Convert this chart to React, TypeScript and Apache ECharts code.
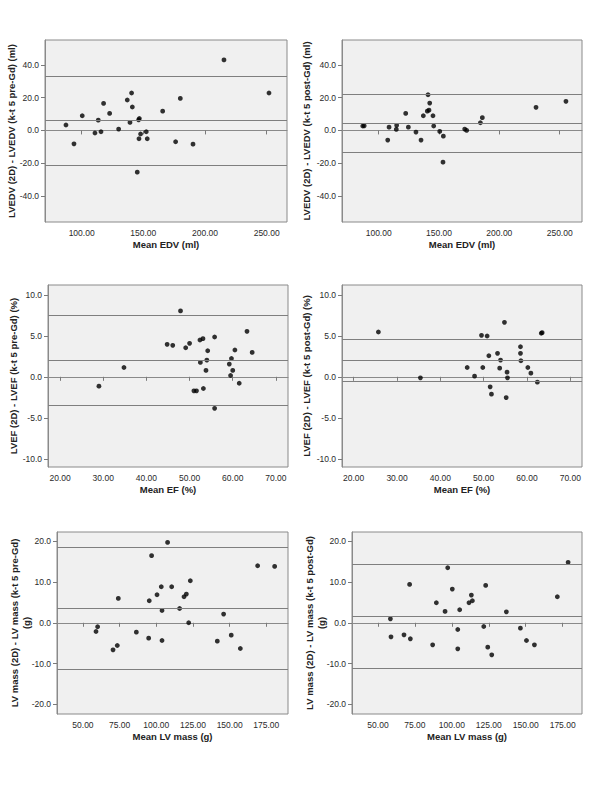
import React, { useEffect, useRef } from "react";
import * as echarts from "echarts";

// ---- Data ----
const edvPreMean = [87.3, 93.8, 100.5, 110.8, 113.5, 115.7, 117.8, 122.7, 130.0, 137.0, 139.2, 140.5, 141.1, 146.2, 146.8, 146.5, 145.1, 147.8, 152.4, 153.2, 165.7, 176.2, 180.0, 190.3, 215.4, 251.9];
const edvPreDiff = [3.3, -8.2, 9.0, -1.6, 6.3, -0.8, 16.5, 10.4, 0.8, 18.6, 4.9, 22.9, 14.3, 6.5, 7.3, -5.1, -25.5, -2.2, -0.8, -5.1, 11.8, -6.9, 19.6, -8.4, 43.1, 22.9];
const edvPreLimits = [33.3, 6.1, -21.1];

const edvPostMean = [86.8, 88.0, 107.5, 108.6, 114.9, 114.6, 122.4, 124.6, 130.9, 135.1, 137.0, 140.3, 140.9, 141.7, 142.3, 145.0, 145.6, 150.6, 153.6, 153.3, 171.3, 172.9, 184.3, 185.9, 230.4, 255.2];
const edvPostDiff = [2.7, 2.8, -5.9, 2.0, 3.1, 0.6, 10.4, 2.0, -1.0, -5.9, 9.0, 11.8, 21.8, 12.4, 16.7, 9.0, 2.7, -0.6, -3.5, -19.4, 0.8, 0.0, 4.7, 7.8, 14.1, 17.8];
const edvPostLimits = [22.0, 4.4, -13.2];

const efPreMean = [29.0, 34.8, 44.8, 46.1, 47.9, 49.1, 50.0, 51.0, 51.6, 52.4, 52.5, 53.1, 53.2, 53.8, 54.0, 54.2, 55.8, 55.8, 59.2, 59.7, 59.5, 60.0, 60.5, 61.5, 63.3, 64.5];
const efPreDiff = [-1.14, 1.14, 3.96, 3.84, 8.04, 3.55, 4.08, -1.71, -1.71, 4.49, 1.76, 4.65, -1.43, 0.78, 2.04, 3.18, 4.86, -3.84, 1.55, 2.24, 0.16, 0.78, 3.27, -0.78, 5.55, 2.98];
const efPreLimits = [7.5, 2.0, -3.5];

const efPostMean = [25.7, 35.4, 46.2, 47.9, 49.5, 49.8, 50.8, 51.2, 51.5, 51.8, 53.2, 53.7, 53.9, 54.8, 55.2, 55.4, 55.5, 58.5, 58.5, 58.6, 60.2, 60.9, 62.4, 63.3, 63.5];
const efPostDiff = [5.47, -0.12, 1.14, 0.08, 5.06, 1.14, 4.98, 2.57, -1.22, -2.12, 2.86, 1.06, 2.04, 6.65, -2.53, 0.57, -0.12, 3.67, 2.86, 1.96, 1.14, 0.45, -0.65, 5.31, 5.39];
const efPostLimits = [4.55, 2.0, -0.55];

const massPreMean = [58.9, 60.0, 70.5, 73.4, 74.1, 86.4, 94.8, 95.2, 96.8, 100.5, 103.4, 103.9, 103.9, 107.7, 110.5, 115.9, 118.9, 120.5, 122.1, 123.2, 141.6, 145.9, 151.1, 157.3, 169.1, 180.7];
const massPreDiff = [-2.13, -0.98, -6.64, -5.57, 5.98, -2.3, -3.77, 5.41, 16.48, 6.89, 8.85, 3.03, -4.34, 19.75, 8.85, 3.52, 6.39, 7.05, 0.0, 10.33, -4.51, 2.13, -3.03, -6.31, 14.0, 13.85];
const massPreLimits = [18.5, 3.6, -11.3];

const massPostMean = [58.4, 58.8, 67.6, 71.4, 71.9, 87.0, 89.5, 95.4, 97.2, 100.3, 104.0, 104.0, 105.3, 111.6, 113.2, 113.9, 121.6, 122.9, 124.3, 127.0, 136.9, 146.4, 150.5, 155.9, 171.4, 178.7];
const massPostDiff = [0.98, -3.44, -2.95, 9.43, -3.93, -5.41, 4.92, 2.79, 13.52, 8.28, -1.64, -6.39, 3.2, 4.92, 6.8, 5.41, -0.9, 9.18, -5.98, -7.87, 2.7, -1.31, -4.34, -5.41, 6.39, 14.84];
const massPostLimits = [14.45, 1.65, -11.15];

const edvTicks = [100, 150, 200, 250];
const efTicks = [20, 30, 40, 50, 60, 70];
const massTicks = [50, 75, 100, 125, 150, 175];
const edvDiffTicks = [-40, -20, 0, 20, 40];
const efDiffTicks = [-10, -5, 0, 5, 10];
const massDiffTicks = [-20, -10, 0, 10, 20];

const FONT = "'Liberation Sans', Arial, sans-serif";

type Panel = {
  mean: number[];
  diff: number[];
  limits: number[];
  xTicks: number[];
  yTicks: number[];
  xRange: [number, number];
  yRange: [number, number];
  xName: string;
  yName: string;
  grid: { left: number; top: number; width: number; height: number };
  yGap: number;
};

const panels: Panel[] = [
  {
    mean: edvPreMean, diff: edvPreDiff, limits: edvPreLimits,
    xTicks: edvTicks, yTicks: edvDiffTicks, xRange: [70.3, 266.5], yRange: [-56, 55.3],
    xName: "Mean EDV (ml)", yName: "LVEDV (2D) - LVEDV (k-t 5 pre-Gd) (ml)",
    grid: { left: 45, top: 40, width: 242, height: 182 }, yGap: 28,
  },
  {
    mean: edvPostMean, diff: edvPostDiff, limits: edvPostLimits,
    xTicks: edvTicks, yTicks: edvDiffTicks, xRange: [69.6, 268.5], yRange: [-56, 55.3],
    xName: "Mean EDV (ml)", yName: "LVEDV (2D) - LVEDV (k-t 5 post-Gd) (ml)",
    grid: { left: 342, top: 40, width: 240, height: 182 }, yGap: 30,
  },
  {
    mean: efPreMean, diff: efPreDiff, limits: efPreLimits,
    xTicks: efTicks, yTicks: efDiffTicks, xRange: [17.2, 72.8], yRange: [-11.0, 11.2],
    xName: "Mean EF (%)", yName: "LVEF (2D) - LVEF (k-t 5 pre-Gd) (%)",
    grid: { left: 48, top: 285, width: 240, height: 182 }, yGap: 29,
  },
  {
    mean: efPostMean, diff: efPostDiff, limits: efPostLimits,
    xTicks: efTicks, yTicks: efDiffTicks, xRange: [17.3, 72.7], yRange: [-11.0, 11.2],
    xName: "Mean EF (%)", yName: "LVEF (2D) - LVEF (k-t 5 post-Gd) (%)",
    grid: { left: 342, top: 285, width: 240, height: 182 }, yGap: 30,
  },
  {
    mean: massPreMean, diff: massPreDiff, limits: massPreLimits,
    xTicks: massTicks, yTicks: massDiffTicks, xRange: [32.3, 189.8], yRange: [-22.4, 22.3],
    xName: "Mean LV mass (g)", yName: "LV mass (2D) - LV mass (k-t 5 pre-Gd)\n(g)",
    grid: { left: 57, top: 532, width: 231, height: 182 }, yGap: 25,
  },
  {
    mean: massPostMean, diff: massPostDiff, limits: massPostLimits,
    xTicks: massTicks, yTicks: massDiffTicks, xRange: [32.4, 188.1], yRange: [-22.4, 22.3],
    xName: "Mean LV mass (g)", yName: "LV mass (2D) - LV mass (k-t 5 post-Gd)\n(g)",
    grid: { left: 352, top: 532, width: 230, height: 182 }, yGap: 25,
  },
];

export default function App() {
  const ref = useRef<HTMLDivElement>(null);
  useEffect(() => {
    if (!ref.current) return;
    const chart = echarts.init(ref.current, undefined, { renderer: "svg" });
    const tickStyle = { show: true, length: 4, inside: false, lineStyle: { color: "#7a7a7a", width: 1 } };
    const option: any = {
      animation: false,
      backgroundColor: "#ffffff",
      textStyle: { fontFamily: FONT },
      grid: panels.map((p) => ({
        ...p.grid,
        show: true,
        backgroundColor: "#f0f0f0",
        borderColor: "#8a8a8a",
        borderWidth: 1,
        containLabel: false,
      })),
      xAxis: panels.map((p, i) => ({
        type: "value",
        gridIndex: i,
        min: p.xRange[0],
        max: p.xRange[1],
        name: p.xName,
        nameLocation: "middle",
        nameGap: 17,
        nameMoveOverlap: false,
        nameTextStyle: { fontFamily: FONT, fontWeight: "bold", fontSize: 9.5, color: "#222" },
        axisLine: { show: true, lineStyle: { color: "#8a8a8a" } },
        axisTick: { ...tickStyle, customValues: p.xTicks },
        axisLabel: {
          customValues: p.xTicks,
          formatter: (v: number) => v.toFixed(2),
          fontFamily: FONT, fontSize: 8.5, color: "#2a2a2a", margin: 6,
        },
        splitLine: { show: false },
      })),
      yAxis: panels.map((p, i) => ({
        type: "value",
        gridIndex: i,
        min: p.yRange[0],
        max: p.yRange[1],
        name: p.yName,
        nameLocation: "middle",
        nameRotate: 90,
        nameGap: p.yGap,
        nameMoveOverlap: false,
        nameTextStyle: { fontFamily: FONT, fontWeight: "bold", fontSize: 9.5, color: "#222", lineHeight: 12, align: "center" },
        axisLine: { show: true, lineStyle: { color: "#8a8a8a" } },
        axisTick: { ...tickStyle, customValues: p.yTicks },
        axisLabel: {
          customValues: p.yTicks,
          formatter: (v: number) => v.toFixed(1),
          fontFamily: FONT, fontSize: 8.5, color: "#2a2a2a", margin: 6,
        },
        splitLine: { show: false },
      })),
      series: panels.map((p, i) => ({
        type: "scatter",
        xAxisIndex: i,
        yAxisIndex: i,
        data: p.mean.map((m, k) => [m, p.diff[k]]),
        symbol: "circle",
        symbolSize: 4.8,
        itemStyle: { color: "#000" },
        silent: true,
        markLine: {
          silent: true,
          symbol: ["none", "none"],
          label: { show: false },
          lineStyle: { color: "#7f7f7f", width: 1, type: "solid" },
          data: p.limits.map((v) => ({ yAxis: v })),
        },
      })),
    };
    chart.setOption(option);
    return () => chart.dispose();
  }, []);
  return (
    <div
      ref={ref}
      style={{ position: "fixed", left: 0, top: 0, width: 600, height: 800, background: "#fff" }}
    />
  );
}
